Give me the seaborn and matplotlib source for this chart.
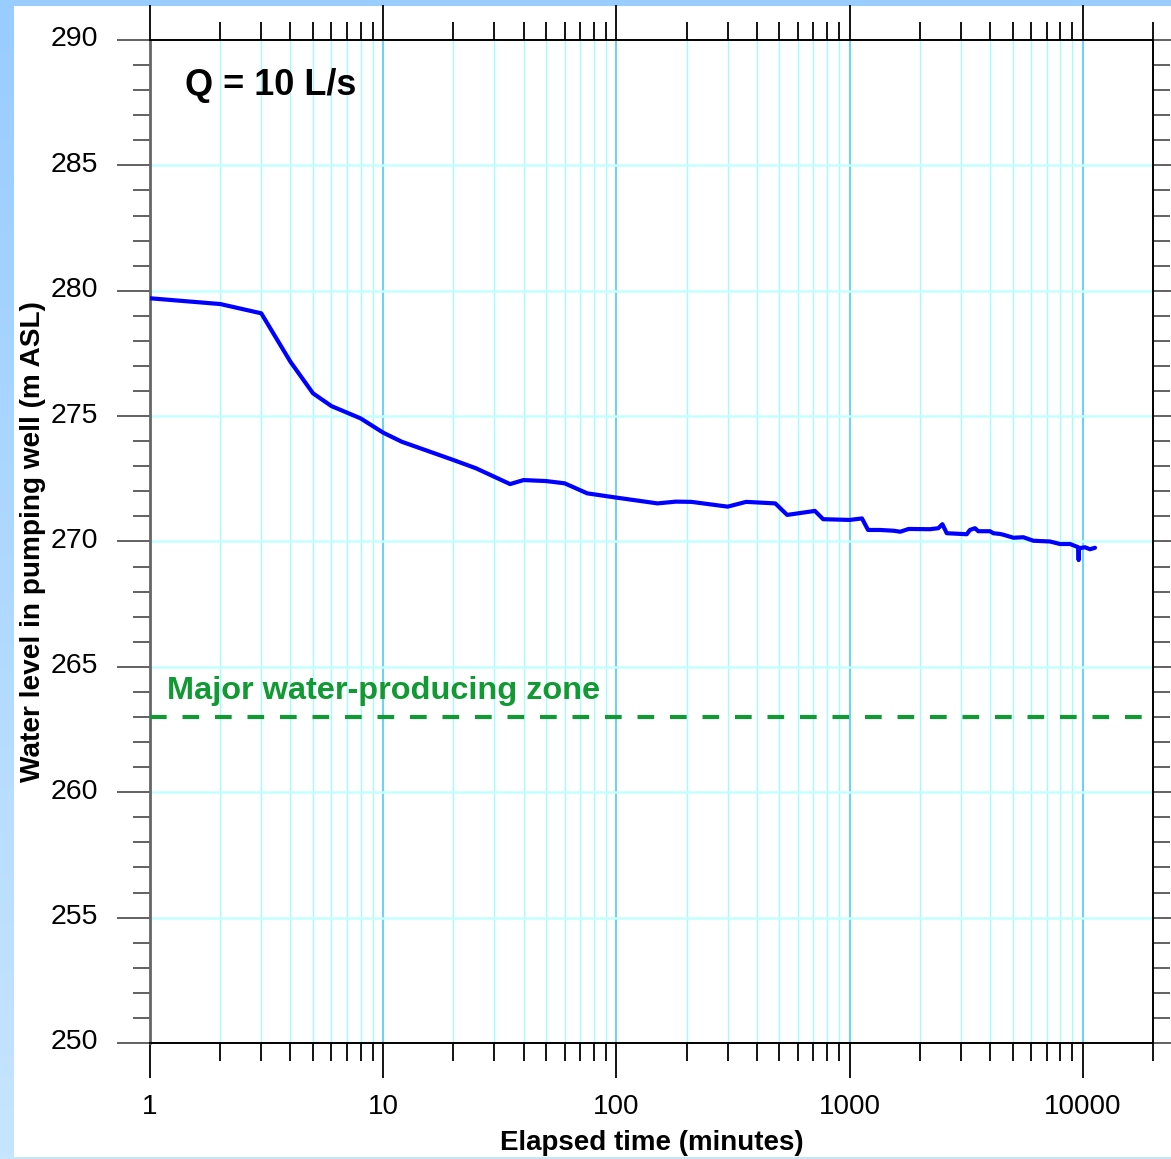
import numpy as np
import pandas as pd
import matplotlib
matplotlib.use("Agg")
import matplotlib.pyplot as plt
from matplotlib.patches import Rectangle
from matplotlib.transforms import ScaledTranslation
from matplotlib.ticker import FixedLocator, FixedFormatter, MultipleLocator, NullFormatter
import seaborn as sns

# Pumping test record: elapsed time (minutes) and water level (m ASL)
elapsed_min = [1, 2, 3, 4, 5, 6, 8, 10, 12, 20,
               25, 35, 40, 50, 60, 75, 100, 150, 180, 210,
               300, 360, 480, 540, 710, 770, 1000, 1130, 1200, 1350,
               1540, 1650, 1790, 2210, 2400, 2500, 2610, 3180, 3280, 3450,
               3560, 4000, 4130, 4420, 4560, 5040, 5560, 6140, 7230, 7990,
               8820, 9570, 9600, 9620, 10220, 10740, 11280]
water_level = [279.70, 279.47, 279.10, 277.17, 275.91, 275.40, 274.91, 274.34, 273.98, 273.25,
               272.92, 272.29, 272.45, 272.41, 272.32, 271.92, 271.75, 271.52, 271.59, 271.58,
               271.39, 271.58, 271.52, 271.06, 271.22, 270.89, 270.86, 270.92, 270.46, 270.46,
               270.43, 270.39, 270.50, 270.49, 270.53, 270.69, 270.33, 270.29, 270.46, 270.53,
               270.41, 270.41, 270.33, 270.30, 270.27, 270.15, 270.17, 270.03, 270.00, 269.90,
               269.90, 269.77, 269.26, 269.73, 269.77, 269.69, 269.75]

zone_level = 263.0
zone_label = "Major water-producing zone"
rate_label = "Q = 10 L/s"

x_major = [1, 10, 100, 1000, 10000]
x_major_labels = ["1", "10", "100", "1000", "10000"]
x_limits = (1, 20000)
y_limits = (250, 290)

sns.set_style("ticks")
plt.rcParams["font.family"] = ["Liberation Sans", "DejaVu Sans"]
plt.rcParams["text.color"] = "black"

W, H = 1171, 1159
fig = plt.figure(figsize=(W / 100, H / 100), dpi=100)

# page background: blue frame with a soft vertical gradient and a white sheet
bg = fig.add_axes([0, 0, 1, 1], zorder=-10)
top_c = np.array([0x99, 0xCC, 0xFF]) / 255
bot_c = np.array([0xC6, 0xE5, 0xFF]) / 255
t = np.linspace(0, 1, 256)[:, None]
grad = (top_c[None, :] * (1 - t) + bot_c[None, :] * t)[:, None, :]
bg.imshow(grad, aspect="auto", extent=[0, 1, 0, 1], origin="upper")
bg.add_patch(Rectangle((14 / W, 2 / H), 1 - 14 / W, 1 - 8 / H,
                       facecolor="white", edgecolor="none"))
bg.set_xlim(0, 1)
bg.set_ylim(0, 1)
bg.axis("off")

ax = fig.add_axes([150 / W, 1 - 1043 / H, (1153 - 150) / W, (1043 - 40) / H], zorder=1)
ax.set_facecolor("white")

df = pd.DataFrame({"time": elapsed_min, "level": water_level})
sns.lineplot(data=df, x="time", y="level", ax=ax, color="#0000FF", lw=3.0,
             sort=False, estimator=None, zorder=5)

ax.axhline(zone_level, color="#119933", lw=3.0, dashes=(4.0, 3.8), zorder=4)

ax.set_xscale("log")
ax.set_xlim(*x_limits)
ax.set_ylim(*y_limits)

ax.xaxis.set_major_locator(FixedLocator(x_major))
ax.xaxis.set_major_formatter(FixedFormatter(x_major_labels))
minor = [m * 10 ** e for e in range(0, 5) for m in range(2, 10)]
ax.xaxis.set_minor_locator(FixedLocator([v for v in minor if v <= x_limits[1]]))
ax.xaxis.set_minor_formatter(NullFormatter())
ax.yaxis.set_major_locator(MultipleLocator(5))
ax.yaxis.set_minor_locator(MultipleLocator(1))

# graph-paper grid
ax.grid(False)
for v in x_major:
    ax.axvline(v, color="#3CC8F5", lw=1.1, zorder=1)
for v in minor:
    if v < x_limits[1]:
        ax.axvline(v, color="#A5FBFF", lw=1.0, zorder=1)
for v in range(255, 290, 5):
    ax.axhline(v, color="#C4FFFF", lw=1.8, zorder=1)

ax.tick_params(axis="x", which="both", direction="out", top=True, bottom=True,
               colors="black", labelcolor="black", labelsize=20, pad=12)
ax.tick_params(axis="x", which="major", length=25, width=1.3)
ax.tick_params(axis="x", which="minor", length=13, width=1.3)
ax.tick_params(axis="y", which="both", direction="out", left=True, right=True,
               color="#555555", labelcolor="black", labelsize=20.5, pad=13)
ax.tick_params(axis="y", which="major", length=24, width=1.3)
ax.tick_params(axis="y", which="minor", length=12, width=1.3)

# y labels sit a little above their lines
lift = ScaledTranslation(0, 3.5 / 100, fig.dpi_scale_trans)
for lab in ax.get_yticklabels():
    lab.set_transform(lab.get_transform() + lift)

for side in ["top", "bottom", "right"]:
    ax.spines[side].set_color("black")
    ax.spines[side].set_linewidth(1.4)
ax.spines["left"].set_color("#666666")
ax.spines["left"].set_linewidth(2.0)

ax.set_xlabel("Elapsed time (minutes)", fontsize=20, fontweight="bold",
              color="black", labelpad=7)
ax.set_ylabel("Water level in pumping well (m ASL)", fontsize=20.2, fontweight="bold",
              color="black", labelpad=3.5)

ax.text(1.41, 287.8, rate_label, fontsize=26, fontweight="bold", color="black",
        ha="left", va="baseline", zorder=6)
ax.text(1.18, 263.72, zone_label, fontsize=23.4, fontweight="bold", color="#119933",
        ha="left", va="baseline", zorder=6)

fig.savefig("out.png", dpi=100)
